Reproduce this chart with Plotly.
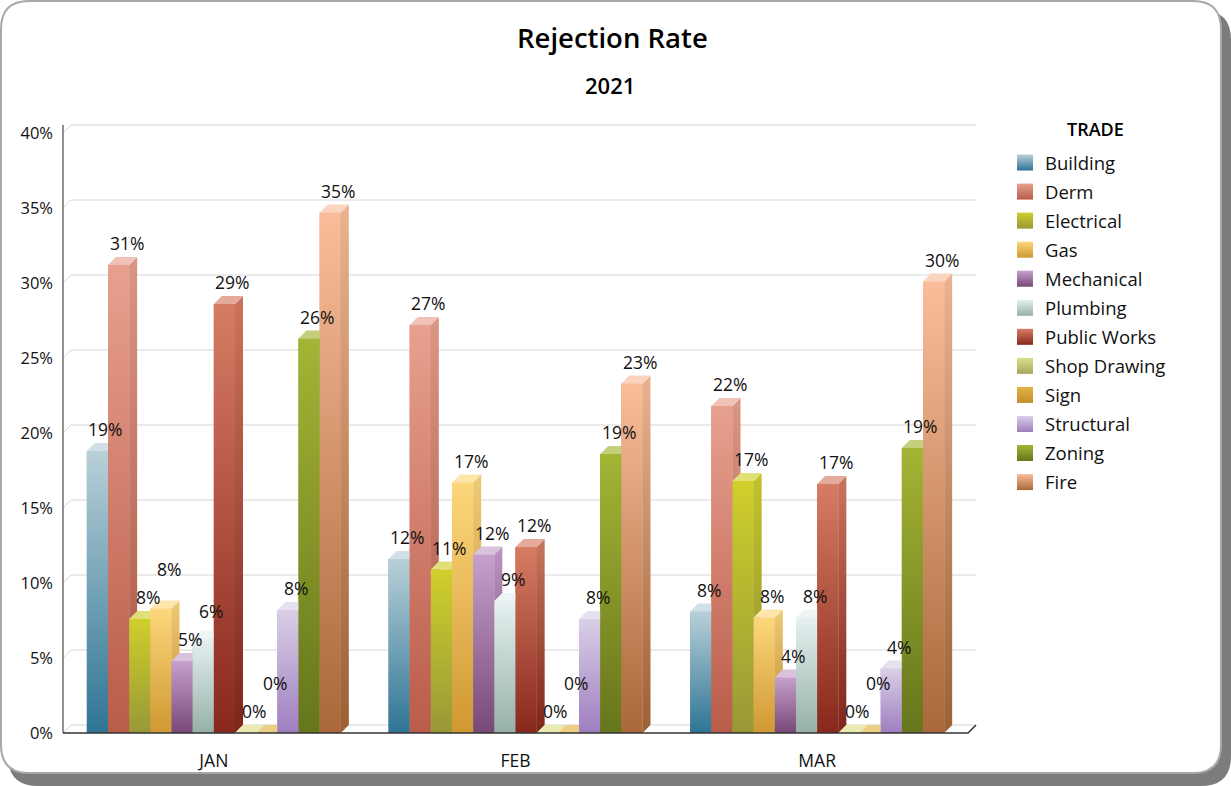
import plotly.graph_objects as go

# ---- data -------------------------------------------------------------
months = ["JAN", "FEB", "MAR"]
trades = ["Building", "Derm", "Electrical", "Gas", "Mechanical", "Plumbing",
          "Public Works", "Shop Drawing", "Sign", "Structural", "Zoning", "Fire"]
jan = [18.8, 31.2, 7.6, 8.3, 4.8, 6.3, 28.6, 0.0, 0.0, 8.2, 26.3, 34.7]
feb = [11.6, 27.2, 10.9, 16.7, 11.9, 8.8, 12.4, 0.0, 0.0, 7.6, 18.6, 23.3]
mar = [8.1, 21.8, 16.8, 7.7, 3.7, 7.7, 16.6, 0.0, 0.0, 4.3, 19.0, 30.1]
y_tick_values = [0, 5, 10, 15, 20, 25, 30, 35, 40]
y_tick_labels = ["0%", "5%", "10%", "15%", "20%", "25%", "30%", "35%", "40%"]

# gradient colours per trade: (top, bottom)
colors = {
    "Building": ("#b8d0d8", "#2e7494"),
    "Derm": ("#e8a08e", "#ba5c4a"),
    "Electrical": ("#cfcf2c", "#989838"),
    "Gas": ("#fdd77c", "#cf9832"),
    "Mechanical": ("#c6a0cc", "#784878"),
    "Plumbing": ("#e6f0f0", "#95b1a7"),
    "Public Works": ("#d67c64", "#88281c"),
    "Shop Drawing": ("#dcdf88", "#a5a85c"),
    "Sign": ("#e3b444", "#c48c2c"),
    "Structural": ("#dacfe6", "#9e7ec0"),
    "Zoning": ("#a4b434", "#66761c"),
    "Fire": ("#f9bd99", "#aa683a"),
}

# ---- geometry ---------------------------------------------------------
W, H = 1231, 786
ML, MR, MT, MB = 63, 263, 133, 53
PW, PH = W - ML - MR, H - MT - MB
Y_MAX = 40
X_MIN, X_MAX = -0.5, 2.5
PX_X = PW / (X_MAX - X_MIN)      # pixels per category unit
PX_Y = PH / Y_MAX                 # pixels per percent
DEPTH = 8                         # 3-D depth in pixels
DX, DY = DEPTH / PX_X, DEPTH / PX_Y

GROUP = 0.842
BW = GROUP / len(trades)
offsets = [-GROUP / 2 + i * BW for i in range(len(trades))]


def px2paper_x(px):
    return (px - ML) / PW


def px2paper_y(py):
    return (H - MB - py) / PH


def mix(c1, c2, t):
    a = [int(c1[k:k + 2], 16) for k in (1, 3, 5)]
    b = [int(c2[k:k + 2], 16) for k in (1, 3, 5)]
    return "#" + "".join(f"{round(x + (y - x) * t):02x}" for x, y in zip(a, b))


series = [jan, feb, mar]
fig = go.Figure()

# plain bars (hover + base colour)
for i, name in enumerate(trades):
    top, bot = colors[name]
    fig.add_trace(go.Bar(
        x=[0, 1, 2], y=[s[i] for s in series], name=name,
        offset=offsets[i], width=BW, marker=dict(color=mix(top, bot, 0.5), line=dict(width=0)),
        showlegend=False, legendgroup=name,
        hovertemplate=name + " %{y:.0f}%<extra></extra>",
    ))

# shaded 3-D faces drawn over each bar, left to right
for m, vals in enumerate(series):
    for i, name in enumerate(trades):
        v = vals[i]
        top, bot = colors[name]
        xl = m + offsets[i]
        xr = xl + BW
        if v > 0:
            fig.add_trace(go.Scatter(
                x=[xl, xr, xr, xl, xl], y=[0, 0, v, v, 0], fill="toself", mode="none",
                fillgradient=dict(type="vertical", colorscale=[[0, bot], [1, top]]),
                hoverinfo="skip", showlegend=False, legendgroup=name))
        fig.add_trace(go.Scatter(
            x=[xr, xr + DX, xr + DX, xr, xr], y=[0, DY, v + DY, v, 0], fill="toself", mode="none",
            fillgradient=dict(type="vertical",
                              colorscale=[[0, mix(bot, "#000000", 0.08)], [1, mix(top, "#000000", 0.06)]]),
            hoverinfo="skip", showlegend=False, legendgroup=name))
        fig.add_trace(go.Scatter(
            x=[xl, xr, xr + DX, xl + DX, xl], y=[v, v, v + DY, v + DY, v], fill="toself", mode="none",
            fillcolor=mix(top, "#ffffff", 0.35),
            hoverinfo="skip", showlegend=False, legendgroup=name))

# legend entries
for name in trades:
    top, bot = colors[name]
    fig.add_trace(go.Scatter(
        x=[None], y=[None], mode="markers", name=name, legendgroup=name,
        marker=dict(symbol="square", size=16, color=top, gradient=dict(type="vertical", color=bot)),
    ))

# ---- value labels with simple overlap avoidance -----------------------
LABEL_H = 28
annotations = []
for m, vals in enumerate(series):
    placed = []
    for i, name in enumerate(trades):
        v = vals[i]
        text = f"{v:.0f}%"
        cx = (m + offsets[i] + BW / 2 + DX) * PX_X
        cy = v * PX_Y + DEPTH + 14
        wdt = 10 * len(text) + 4
        moved = True
        while moved:
            moved = False
            for (px, py, pw) in placed:
                if abs(px - cx) < (pw + wdt) / 2 and abs(py - cy) < LABEL_H:
                    cy = py + LABEL_H
                    moved = True
        placed.append((cx, cy, wdt))
        annotations.append(dict(
            x=m + offsets[i] + BW / 2 + DX, y=v, xref="x", yref="y", text=text,
            showarrow=False, yanchor="middle", xanchor="center",
            yshift=cy - v * PX_Y, font=dict(size=17.5, color="#111111"),
        ))

annotations.append(dict(
    x=px2paper_x(612), y=px2paper_y(37), xref="paper", yref="paper", text="Rejection Rate",
    showarrow=False, xanchor="center", yanchor="middle",
    font=dict(size=27.5, color="#000000", weight=600)))
annotations.append(dict(
    x=px2paper_x(610), y=px2paper_y(85), xref="paper", yref="paper", text="2021",
    showarrow=False, xanchor="center", yanchor="middle",
    font=dict(size=22, color="#000000", weight=600)))
annotations.append(dict(
    x=px2paper_x(1095), y=px2paper_y(129), xref="paper", yref="paper", text="TRADE",
    showarrow=False, xanchor="center", yanchor="middle",
    font=dict(size=18, color="#000000", weight=600)))

# ---- card, grid and axis lines ----------------------------------------
def rounded(x0, y0, x1, y1, r):
    X = px2paper_x
    Y = px2paper_y
    return (f"M {X(x0 + r)},{Y(y0)} L {X(x1 - r)},{Y(y0)} Q {X(x1)},{Y(y0)} {X(x1)},{Y(y0 + r)} "
            f"L {X(x1)},{Y(y1 - r)} Q {X(x1)},{Y(y1)} {X(x1 - r)},{Y(y1)} "
            f"L {X(x0 + r)},{Y(y1)} Q {X(x0)},{Y(y1)} {X(x0)},{Y(y1 - r)} "
            f"L {X(x0)},{Y(y0 + r)} Q {X(x0)},{Y(y0)} {X(x0 + r)},{Y(y0)} Z")


shapes = [
    dict(type="path", path=rounded(8, 10, 1231, 786, 30), xref="paper", yref="paper",
         fillcolor="#7c7c7c", line=dict(width=0), layer="below"),
    dict(type="path", path=rounded(1, 1, 1221, 773, 28), xref="paper", yref="paper",
         fillcolor="#ffffff", line=dict(color="#a8a8a8", width=2), layer="below"),
]

dxp = DEPTH / PW
dyp = DEPTH / PH
for v in y_tick_values:
    yp = v / Y_MAX
    shapes.append(dict(
        type="path", xref="paper", yref="paper", layer="below",
        path=f"M 0,{yp} L {dxp},{yp + dyp} L {1 + dxp},{yp + dyp}",
        line=dict(color="#d6d6d6", width=1)))
shapes.append(dict(type="line", xref="paper", yref="paper", x0=0, x1=0, y0=0, y1=1 + dyp,
                   line=dict(color="#6e6e6e", width=1.5), layer="below"))
shapes.append(dict(type="path", xref="paper", yref="paper", layer="above",
                   path=f"M 0,0 L 1,0 L {1 + dxp},{dyp}",
                   line=dict(color="#333333", width=1.5)))

fig.update_layout(
    width=W, height=H,
    margin=dict(l=ML, r=MR, t=MT, b=MB, autoexpand=False),
    paper_bgcolor="#ffffff", plot_bgcolor="rgba(0,0,0,0)",
    font=dict(family="Open Sans, Noto Sans, sans-serif", color="#111111", size=16),
    barmode="overlay",
    xaxis=dict(range=[X_MIN, X_MAX], tickvals=[0, 1, 2], ticktext=months, showgrid=False,
               zeroline=False, showline=False, ticks="", ticklabelstandoff=15,
               tickfont=dict(size=17.5), fixedrange=True),
    yaxis=dict(range=[0, Y_MAX], tickvals=y_tick_values, ticktext=y_tick_labels, showgrid=False,
               zeroline=False, showline=False, ticks="", ticklabelstandoff=9,
               tickfont=dict(size=16.5), fixedrange=True),
    legend=dict(x=px2paper_x(1005), y=px2paper_y(144), xanchor="left", yanchor="top",
                font=dict(size=18.5), tracegroupgap=2, bgcolor="rgba(0,0,0,0)"),
    annotations=annotations,
    shapes=shapes,
    showlegend=True,
)

fig.write_html("out.html")
